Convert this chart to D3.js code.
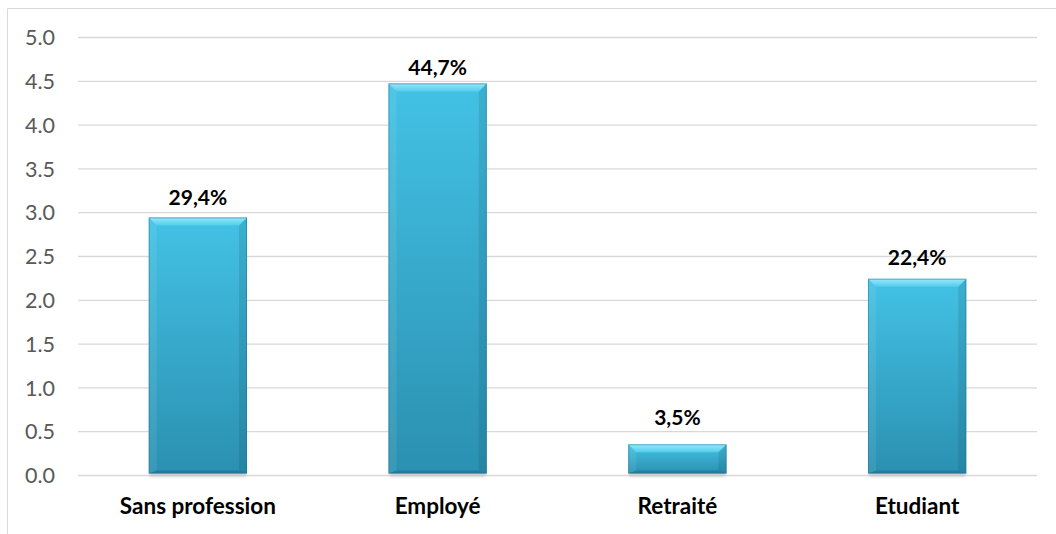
<!DOCTYPE html>
<html>
<head>
<meta charset="utf-8">
<script src="https://cdn.jsdelivr.net/npm/d3@7"></script>
<style>
  html, body { margin: 0; padding: 0; background: #ffffff; }
  svg { display: block; }
</style>
</head>
<body>
<svg id="chart" width="1056" height="534"></svg>
<script>
// Répartition par profession
const categories = ["Sans profession", "Employé", "Retraité", "Etudiant"];
const values = [2.94, 4.47, 0.35, 2.24];
const valueLabels = ["29,4%", "44,7%", "3,5%", "22,4%"];
const yTicks = [0, 0.5, 1, 1.5, 2, 2.5, 3, 3.5, 4, 4.5, 5];

const W = 1056, H = 534;
const plot = { left: 78, right: 1037, top: 37, bottom: 475 };
const FONT = "Lato, 'Open Sans', sans-serif";

const svg = d3.select("#chart");
const defs = svg.append("defs");

// gradients for the bevelled bars
const face = defs.append("linearGradient").attr("id", "faceGrad")
  .attr("x1", 0).attr("y1", 0).attr("x2", 0).attr("y2", 1);
face.append("stop").attr("offset", "0%").attr("stop-color", "#43c2e5");
face.append("stop").attr("offset", "100%").attr("stop-color", "#2b90b1");

const topBevel = defs.append("linearGradient").attr("id", "topGrad")
  .attr("x1", 0).attr("y1", 0).attr("x2", 0).attr("y2", 1);
topBevel.append("stop").attr("offset", "0%").attr("stop-color", "#9ae8fa");
topBevel.append("stop").attr("offset", "100%").attr("stop-color", "#52cdec");

const shadowBlur = defs.append("filter").attr("id", "shadowBlur")
  .attr("x", "-20%").attr("y", "-50%").attr("width", "140%").attr("height", "200%");
shadowBlur.append("feGaussianBlur").attr("stdDeviation", 1.4);

// chart frame (top and left edges visible)
svg.append("path")
  .attr("d", `M7.5,${H} L7.5,8.5 L${W},8.5`)
  .attr("fill", "none").attr("stroke", "#d9d9d9").attr("stroke-width", 1);

const x = d3.scaleBand()
  .domain(categories)
  .range([plot.left, plot.right])
  .paddingInner(0.59)
  .paddingOuter(0.295);

const y = d3.scaleLinear()
  .domain([0, 5])
  .range([plot.bottom, plot.top]);

// anchor positions for the value labels
const yLabel = d3.scaleLinear()
  .domain([0, 5])
  .range([plot.bottom - 20, plot.bottom - 20 - 424.5]);

// gridlines + tick labels
const yAxis = d3.axisLeft(y)
  .tickValues(yTicks)
  .tickFormat(d3.format(".1f"))
  .tickSize(-(plot.right - plot.left))
  .tickPadding(23);

const gAxis = svg.append("g")
  .attr("transform", `translate(${plot.left},0)`)
  .call(yAxis);
gAxis.select(".domain").remove();
gAxis.selectAll(".tick line")
  .attr("stroke", "#d9d9d9").attr("stroke-width", 1.3);
gAxis.selectAll(".tick text")
  .attr("fill", "#595959")
  .attr("font-family", FONT)
  .attr("font-size", 21.5)
  .attr("dy", "0.36em");

// category labels
const gX = svg.append("g")
  .attr("transform", `translate(0,${plot.bottom})`)
  .call(d3.axisBottom(x).tickSize(0).tickPadding(0));
gX.select(".domain").remove();
gX.selectAll(".tick text")
  .attr("y", 38.5)
  .attr("dy", 0)
  .attr("fill", "#000000")
  .attr("font-family", FONT)
  .attr("font-weight", "bold")
  .attr("font-size", 22.5);

// bars
const data = categories.map((c, i) => ({ c, v: values[i], label: valueLabels[i] }));
const bars = svg.append("g").selectAll("g.bar").data(data).join("g").attr("class", "bar");

const bw = x.bandwidth();
const bev = 8, bevBottom = 3;

bars.each(function (d) {
  const g = d3.select(this);
  const x0 = x(d.c), x1 = x0 + bw;
  const y0 = y(d.v), y1 = y(0) - 1.5;
  const b = Math.min(bev, (y1 - y0) / 2);

  // soft shadow under the bar
  g.append("rect")
    .attr("x", x0 + 1).attr("y", y1 - 1)
    .attr("width", bw - 2).attr("height", 4)
    .attr("fill", "#b8b8b8").attr("opacity", 0.7)
    .attr("filter", "url(#shadowBlur)");

  // main face
  g.append("rect")
    .attr("x", x0).attr("y", y0)
    .attr("width", bw).attr("height", y1 - y0)
    .attr("fill", "url(#faceGrad)");

  // left bevel (lighter)
  g.append("path")
    .attr("d", `M${x0},${y0} L${x0 + b},${y0 + b} L${x0 + b},${y1 - bevBottom} L${x0},${y1} Z`)
    .attr("fill", "#ffffff").attr("opacity", 0.08);

  // right bevel (darker)
  g.append("path")
    .attr("d", `M${x1},${y0} L${x1 - b},${y0 + b} L${x1 - b},${y1 - bevBottom} L${x1},${y1} Z`)
    .attr("fill", "#0b3d4f").attr("opacity", 0.14);

  // bottom bevel (darker)
  g.append("path")
    .attr("d", `M${x0},${y1} L${x0 + b},${y1 - bevBottom} L${x1 - b},${y1 - bevBottom} L${x1},${y1} Z`)
    .attr("fill", "#0b3d4f").attr("opacity", 0.22);

  // top bevel (light)
  g.append("path")
    .attr("d", `M${x0},${y0} L${x1},${y0} L${x1 - b},${y0 + b} L${x0 + b},${y0 + b} Z`)
    .attr("fill", "url(#topGrad)");

  // edge
  g.append("rect")
    .attr("x", x0 + 0.5).attr("y", y0 + 0.5)
    .attr("width", bw - 1).attr("height", y1 - y0 - 1)
    .attr("fill", "none").attr("stroke", "#1f6f8a")
    .attr("stroke-opacity", 0.45).attr("stroke-width", 1);

  // value label
  g.append("text")
    .attr("x", x0 + bw / 2)
    .attr("y", yLabel(d.v))
    .attr("text-anchor", "middle")
    .attr("fill", "#000000")
    .attr("font-family", FONT)
    .attr("font-weight", "bold")
    .attr("font-size", 21)
    .text(d.label);
});
</script>
</body>
</html>
